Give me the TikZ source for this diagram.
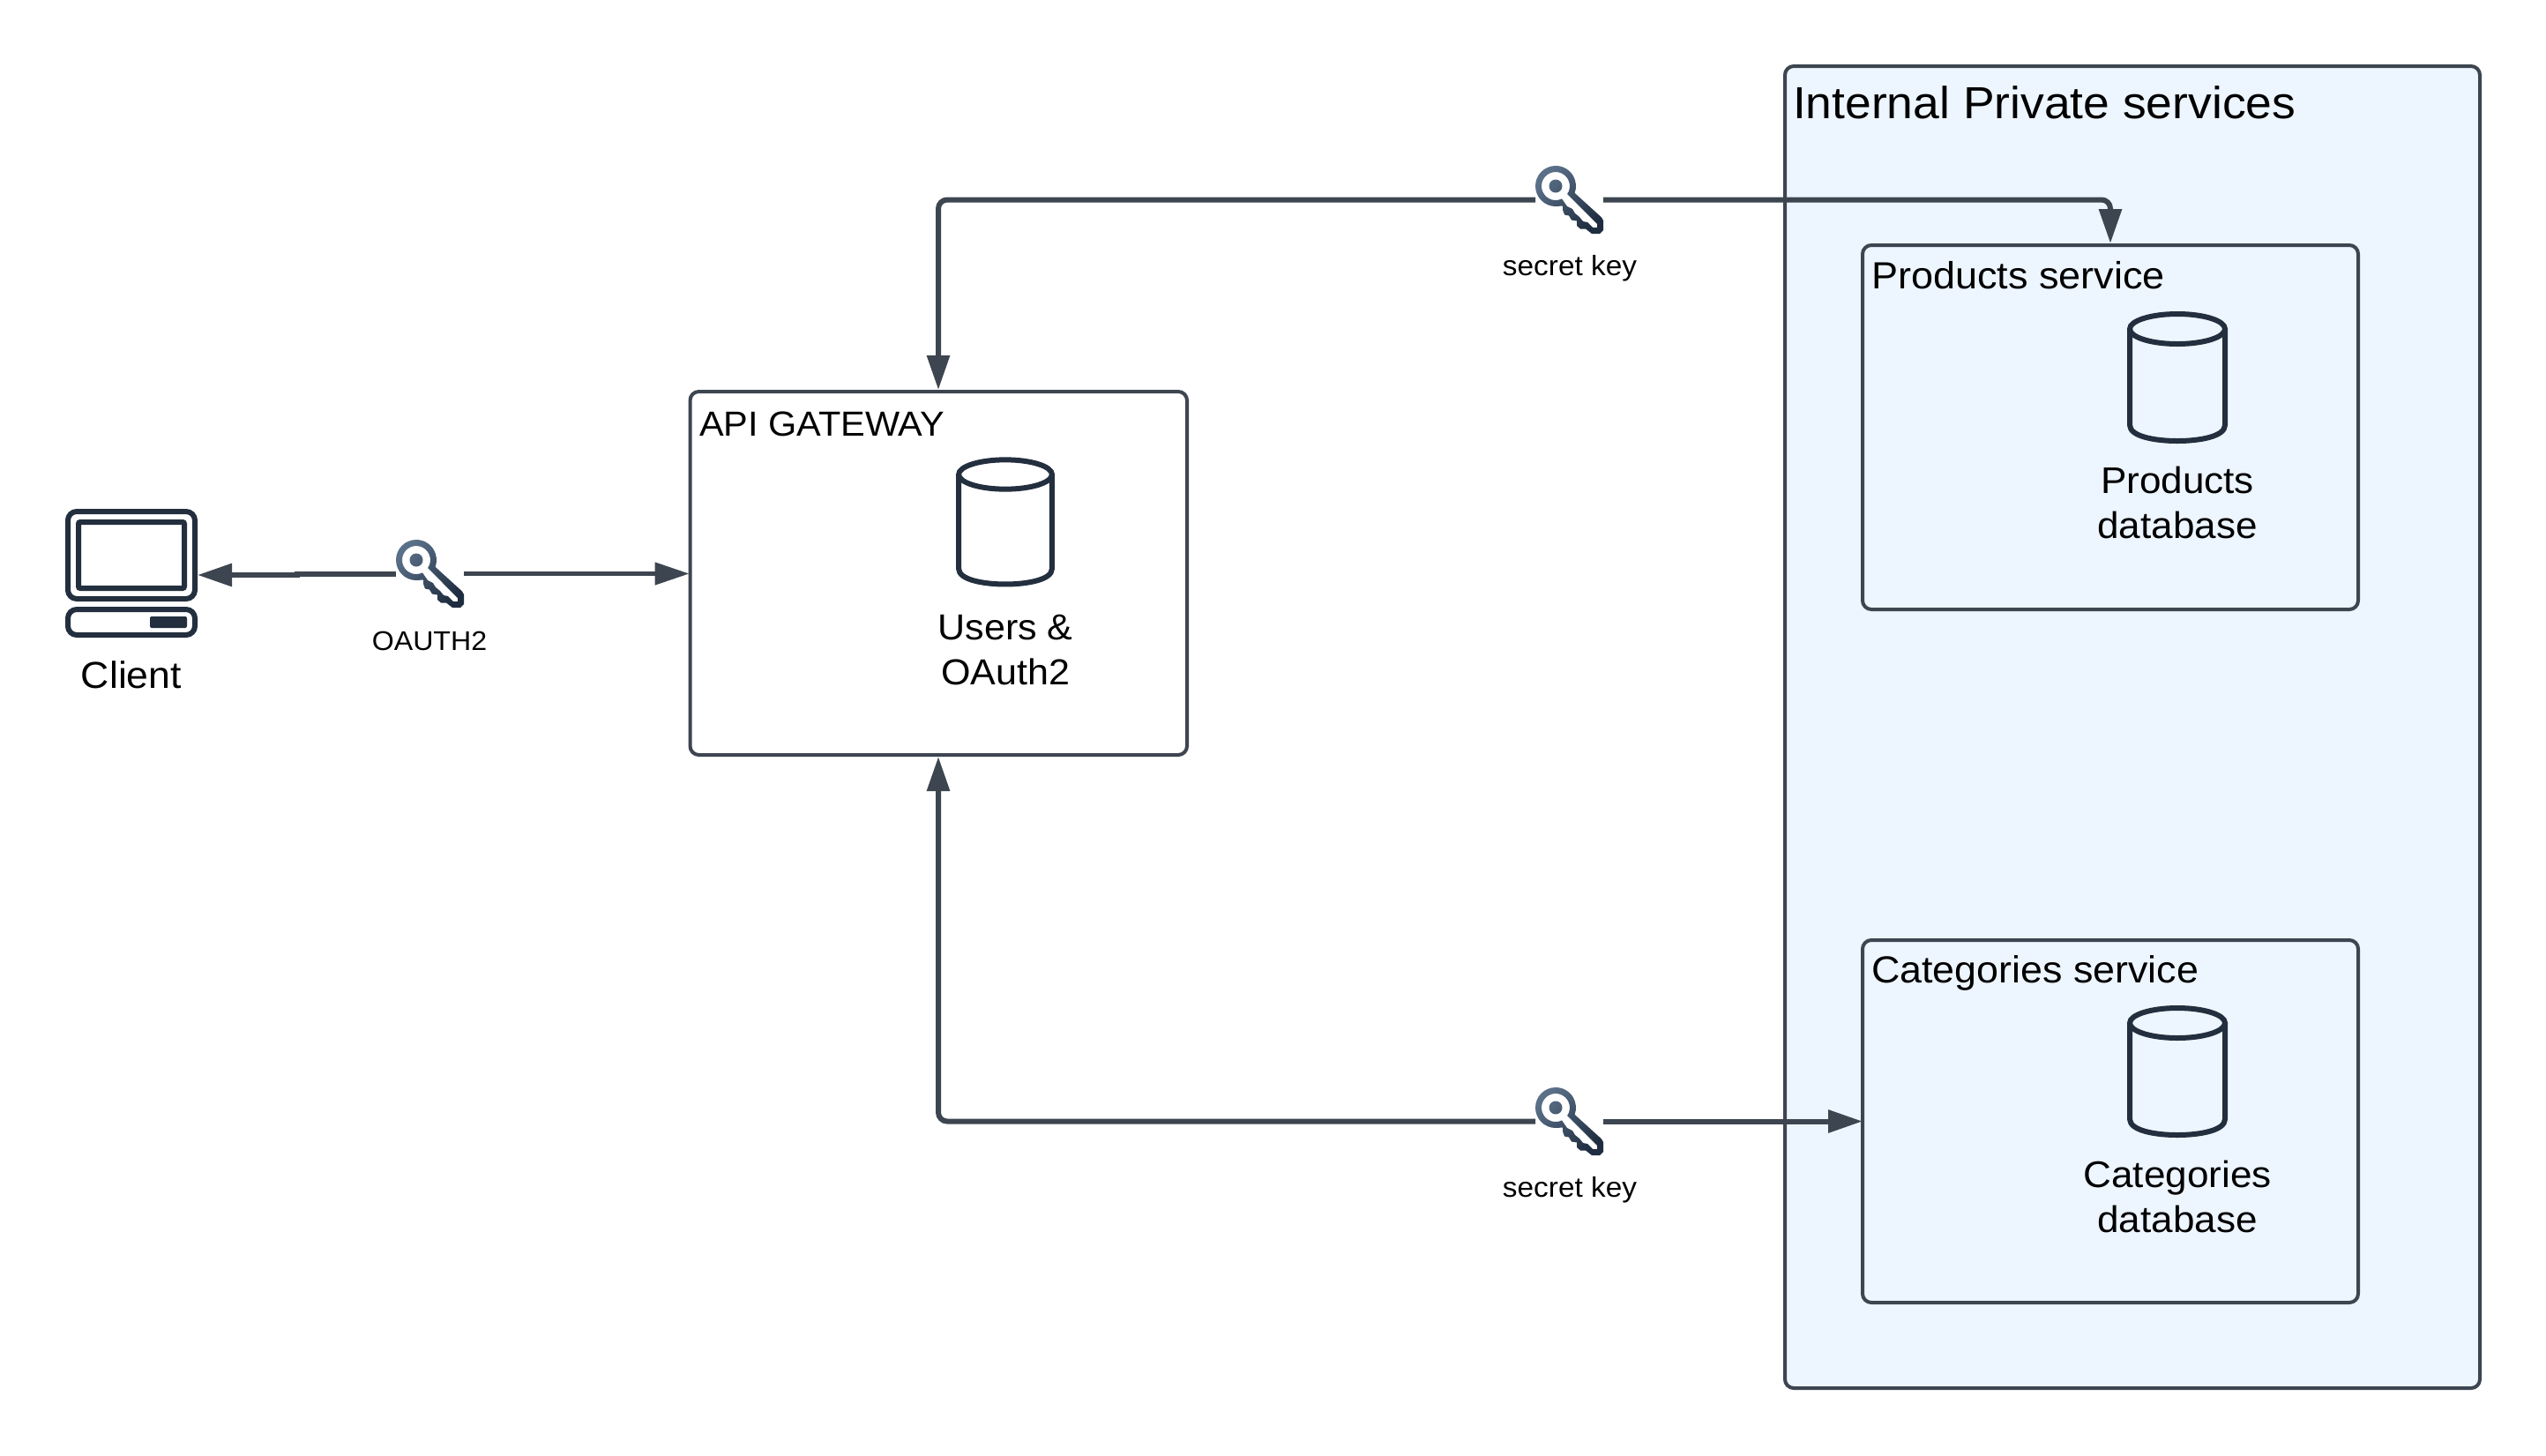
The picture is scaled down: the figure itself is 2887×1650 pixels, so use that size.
\documentclass[tikz,border=0pt]{standalone}
\usepackage{fontspec}
\setmainfont[FakeStretch=1.05]{Liberation Sans}
\usetikzlibrary{arrows.meta}
\definecolor{linec}{HTML}{3D4550}
\definecolor{iconc}{HTML}{232F3E}
\definecolor{panelc}{HTML}{EDF5FF}
\definecolor{keyA}{HTML}{5A7088}
\definecolor{keyB}{HTML}{1F2D40}
\newcommand{\fs}[1]{\fontsize{#1}{#1}\selectfont}
\tikzset{
  x=1pt,y=-1pt,
  panel/.style={draw=linec,line width=4pt,rounded corners=10pt,fill=panelc},
  whitebox/.style={draw=linec,line width=4pt,rounded corners=10pt,fill=white},
  frame/.style={draw=linec,line width=4pt,rounded corners=10pt},
  txt/.style={inner sep=0pt,outer sep=0pt,text=black},
  keybox/.style={inner sep=0pt,outer sep=0pt,minimum width=77pt,minimum height=77pt,anchor=north west},
  conn/.style={draw=linec,line width=6pt,rounded corners=10pt,line cap=butt},
  thin conn/.style={conn,line width=4.6pt},
  tip/.style={-{Triangle[length=39pt,width=25pt]}},
  iconline/.style={draw=iconc,line width=6pt},
  keyicon/.pic={
    \shade[top color=keyA,bottom color=keyB,shading angle=45,even odd rule]
      (23,46) arc[start angle=-90,end angle=-380,radius=23pt]
      -- (75,58.5) -- (77,62) -- (77,73) -- (73,77) -- (64,77) -- (57,71.5) -- (51,71.5) -- (47,68) -- (47,62.5) -- (41,61.5) -- (38,56.5) -- (33,55.5) -- (31,50) -- (31,45.5) -- cycle
      (30,37.4) arc[start angle=-64,end angle=-394.7,radius=16pt]
      -- (70,66) -- (70,70) -- (65,70) -- (59,64) -- (54,63) -- (50,58) -- (45,54) -- (42,49) -- (36,46) -- cycle
      (23,23) circle[radius=7.5pt];
  },
  cyl/.pic={
    \draw[iconline,line join=round]
      (-54,0) -- (-54,109) .. controls (-54,122) and (-25,127) .. (0,127)
      .. controls (25,127) and (54,122) .. (54,109) -- (54,0);
    \draw[iconline] (0,0) ellipse[x radius=54pt,y radius=17pt];
  },
}
\begin{document}
\begin{tikzpicture}
\useasboundingbox (0,0) rectangle (2887,1650);
\fill[white] (0,0) rectangle (2887,1650);

% panels
\path[panel] (2024,75) rectangle (2812,1574);
\coordinate (prodTop) at (2393,278);
\coordinate (catWest) at (2112,1271.5);
\path[frame] (2112,278) rectangle (2674,691);
\path[frame] (2112,1066) rectangle (2674,1477);
\path[whitebox] (782.5,444) rectangle (1346,856);
\coordinate (apiTop) at (1064,444);
\coordinate (apiBottom) at (1064,856);
\coordinate (apiWest) at (782.5,650.5);
\coordinate (clientEast) at (224,652);

% client icon
\draw[iconline,rounded corners=10pt] (77,580) rectangle (221,679);
\draw[iconline,rounded corners=2pt] (89,592) rectangle (209,667);
\draw[iconline,rounded corners=10pt] (77,691) rectangle (221,720);
\fill[iconc,rounded corners=2pt] (170,699) rectangle (212,712);

% keys
\node[keybox] (keyClient) at (449,612) {};
\node[keybox] (keyTop) at (1741,188) {};
\node[keybox] (keyBottom) at (1741,1233) {};
\pic at (449,612) {keyicon};
\pic at (1741,188) {keyicon};
\pic at (1741,1233) {keyicon};

% databases
\pic[scale=.98] at (1140,538) {cyl};
\pic at (2469,373) {cyl};
\pic at (2469,1160) {cyl};

% connectors
\draw[thin conn,tip,shorten >=1pt] (keyClient.east) -- (apiWest);
\draw[conn,tip,rounded corners=0pt] (keyClient.west) -- (337,650.5) -- (337,652) -- (clientEast);
\draw[conn,tip,shorten >=2pt] (keyTop.west) -| (apiTop);
\draw[conn,tip,shorten >=2pt] (keyTop.east) -| (prodTop);
\draw[conn,tip,shorten >=2pt] (keyBottom.west) -| (apiBottom);
\draw[conn,tip,shorten >=0pt] (keyBottom.east) -- (catWest);

% text
\node[txt,anchor=base] (tClient) at (149,780) {\fs{42.5}Client};
\node[txt,anchor=base] (tOauth) at (487,737) {\fs{30.6}OAUTH2};
\node[txt,anchor=base] (tKey1) at (1780,312) {\fs{31.8}secret key};
\node[txt,anchor=base] (tKey2) at (1780,1357) {\fs{31.8}secret key};
\node[txt,anchor=base west] (tApi) at (793,494) {\fs{39.5}API GATEWAY};
\node[txt,anchor=base west] (tPanel) at (2033,134) {\fs{50.9}Internal Private services};
\node[txt,anchor=base west] (tProd) at (2122,327) {\fs{42.9}Products service};
\node[txt,anchor=base west] (tCat) at (2122,1114) {\fs{42.7}Categories service};
\node[txt,anchor=base] (tUsersA) at (1140,725) {\fs{41}Users \&};
\node[txt,anchor=base] (tUsersB) at (1140,776) {\fs{41}OAuth2};
\node[txt,anchor=base] (tProdA) at (2469,559) {\fs{42}Products};
\node[txt,anchor=base] (tProdB) at (2469,610) {\fs{42}database};
\node[txt,anchor=base] (tCatA) at (2469,1346) {\fs{42}Categories};
\node[txt,anchor=base] (tCatB) at (2469,1397) {\fs{42}database};
\end{tikzpicture}
\end{document}
